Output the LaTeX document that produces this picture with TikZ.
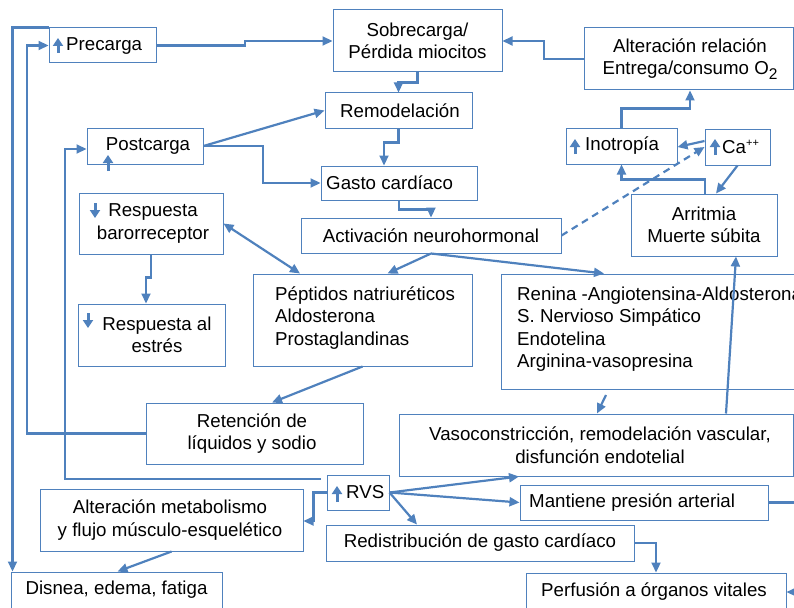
\documentclass[tikz,border=0pt]{standalone}
\usepackage{fontspec}
\setmainfont{Liberation Sans}
\usetikzlibrary{arrows.meta}
\definecolor{lc}{RGB}{79,129,189}
\begin{document}
\begin{tikzpicture}[x=1pt,y=-1pt,
  box/.style={draw=lc, line width=1pt, inner sep=0pt, fill=white},
  txt/.style={font=\fontsize{18.7}{22.5}\selectfont, inner sep=0pt, align=center},
  conn/.style={draw=lc, line width=2.2pt, -{Triangle[length=10pt,width=9pt]}},
  icon/.style={draw=lc, line width=3pt, -{Triangle[length=8pt,width=10pt]}}]
\useasboundingbox (0,0) rectangle (794,607);
% boxes
\node[box, minimum width=107pt, minimum height=35pt] (pre) at (102.5,45.5) {};
\node[box, minimum width=169pt, minimum height=62pt] (sob) at (417.5,41) {};
\node[box, minimum width=147pt, minimum height=35pt] (rem) at (398.5,110.5) {};
\node[box, minimum width=116pt, minimum height=36pt] (post) at (145,146) {};
\node[box, minimum width=156pt, minimum height=34pt] (gas) at (399,183) {};
\node[box, minimum width=260pt, minimum height=35pt] (act) at (431,235.5) {};
\node[box, minimum width=209pt, minimum height=62pt] (alt) at (688.5,59) {};
\node[box, minimum width=111pt, minimum height=36pt] (ino) at (621.5,146) {};
\node[box, minimum width=65pt, minimum height=36pt] (ca) at (737.5,147) {};
\node[box, minimum width=146pt, minimum height=62pt] (arr) at (704,225) {};
\node[box, minimum width=144pt, minimum height=61pt] (baro) at (151,223.5) {};
\node[box, minimum width=147pt, minimum height=62pt] (est) at (151.5,335) {};
\node[box, minimum width=219pt, minimum height=92pt] (pep) at (362.5,320) {};
\node[box, minimum width=319pt, minimum height=115pt] (ren) at (660.5,331.5) {};
\node[box, minimum width=217pt, minimum height=61pt] (ret) at (254.5,433.5) {};
\node[box, minimum width=394pt, minimum height=62pt] (vas) at (596,445) {};
\node[box, minimum width=62pt, minimum height=35pt] (rvs) at (358,492.5) {};
\node[box, minimum width=263pt, minimum height=62pt] (met) at (171.5,520) {};
\node[box, minimum width=248pt, minimum height=35pt] (man) at (644,502.5) {};
\node[box, minimum width=308pt, minimum height=36pt] (red) at (480,543) {};
\node[box, minimum width=211pt, minimum height=48pt] (dis) at (116.5,596) {};
\node[box, minimum width=260pt, minimum height=47pt] (per) at (656,596.5) {};
% texts
\node[txt, anchor=west] (tpre) at (66,46) {Precarga};
\node[txt] (tsob) at (417.5,41) {Sobrecarga/\\Pérdida miocitos};
\node[txt] (trem) at (400,110.5) {Remodelación};
\node[txt] (tpost) at (148,146) {Postcarga};
\node[txt, anchor=west] (tgas) at (326,183) {Gasto cardíaco};
\node[txt] (tact) at (431,235.5) {Activación neurohormonal};
\node[txt] (talt) at (690,59) {Alteración relación\\Entrega/consumo O\raisebox{-5pt}{\fontsize{15.5}{15.5}\selectfont 2}};
\node[txt, anchor=west] (tino) at (585,146) {Inotropía};
\node[txt, anchor=west] (tca) at (722,147) {Ca\raisebox{7pt}{\fontsize{11}{11}\selectfont ++}};
\node[txt] (tarr) at (704,225) {Arritmia\\Muerte súbita};
\node[txt] (tbaro) at (153,223.5) {Respuesta\\barorreceptor};
\node[txt] (test) at (157,335) {Respuesta al\\estrés};
\node[txt, anchor=west, align=left] (tpep) at (275,318) {Péptidos natriuréticos\\Aldosterona\\Prostaglandinas};
\node[txt, anchor=west, align=left] (tren) at (517,329) {Renina -Angiotensina-Aldosterona\\S. Nervioso Simpático\\Endotelina\\Arginina-vasopresina};
\node[txt] (tret) at (252,433.5) {Retención de\\líquidos y sodio};
\node[txt] (tvas) at (600,445) {Vasoconstricción, remodelación vascular,\\disfunción endotelial};
\node[txt, anchor=west] (trvs) at (346,492.5) {RVS};
\node[txt] (tmet) at (170,520) {Alteración metabolismo\\y flujo músculo-esquelético};
\node[txt, anchor=west] (tman) at (529,502.5) {Mantiene presión arterial};
\node[txt] (tred) at (480,543) {Redistribución de gasto cardíaco};
\node[txt] (tdis) at (116.5,590) {Disnea, edema, fatiga};
\node[txt] (tper) at (654,592) {Perfusión a órganos vitales};
% icons
\draw[icon] (58,53) -- (58,38);
\draw[icon] (575,154) -- (575,139);
\draw[icon] (715,155) -- (715,139);
\draw[icon] (95,203) -- (95,218);
\draw[icon] (88,313) -- (88,328);
\draw[icon] (337,502) -- (337,486);
\draw[icon] (108,171) -- (108,155);
% connectors
\draw[conn] (pre.east) -- (245,45.5) -- (245,41) -- (sob.west);
\draw[conn] (alt.west) -- (544,59) -- (544,41) -- (sob.east);
\draw[conn] (sob.south) -- ++(0,10) -| (rem.north);
\draw[conn] (rem.south) -- ++(0,14) -| ([xshift=-15pt]gas.north);
\draw[conn] (post.east) -- (rem.west);
\draw[conn] (post.east) -- (263,146) |- (gas.west);
\draw[conn] (gas.south) -- ++(0,9) -| (act.north);
\draw[conn] (act.south) -- ([xshift=25pt]pep.north);
\draw[conn] (act.south) -- ([xshift=-56.5pt]ren.north);
\draw[conn, {Triangle[length=10pt,width=9pt]}-{Triangle[length=10pt,width=9pt]}] (baro.east) -- ([xshift=-62.5pt]pep.north);
\draw[conn] (baro.south) -- ++(0,23) -| ([xshift=-5.5pt]est.north);
\draw[conn] (pep.south) -- ([xshift=17.5pt]ret.north);
\coordinate (rv) at (606,395);
\draw[conn] (rv) -- ([xshift=1pt]vas.north);
\draw[conn] ([xshift=130pt]vas.north) -- ([xshift=32pt]arr.south);
\draw[conn, dash pattern=on 7pt off 5pt] (act.east) -- (ca.west);
\draw[conn] ([yshift=6pt]ca.west) -- ([yshift=-1pt]ino.east);
\draw[conn] (ca.south) -- ([xshift=12pt]arr.north);
\draw[conn] ([xshift=1pt]arr.north) -- ++(0,-14) -| (ino.south);
\draw[conn] (ino.north) -- ++(0,-19) -| ([xshift=1.5pt]alt.south);
\draw[conn] (rvs.east) -- ([xshift=-77pt]vas.south);
\draw[conn] (rvs.east) -- (man.west);
\draw[conn] (rvs.east) -- ([xshift=-63pt]red.north);
\draw[conn] (rvs.west) -- ++(-13,0) |- ([yshift=-1pt]met.east);
\draw[conn] (met.south) -- ([xshift=1pt]dis.north);
\draw[conn] (red.east) -| (per.north);
\draw[conn] (man.east) -- (812,502.5) |- ([yshift=4.5pt]per.east);
\coordinate (rvsl) at (321,479);
\draw[conn] (rvsl) -- (65,479) |- ([yshift=-3pt]post.west);
\draw[conn] (ret.west) -- (27,433.5) |- (pre.west);
\draw[conn] (pre.north west) -| ([xshift=2pt]dis.north west);
\end{tikzpicture}
\end{document}
